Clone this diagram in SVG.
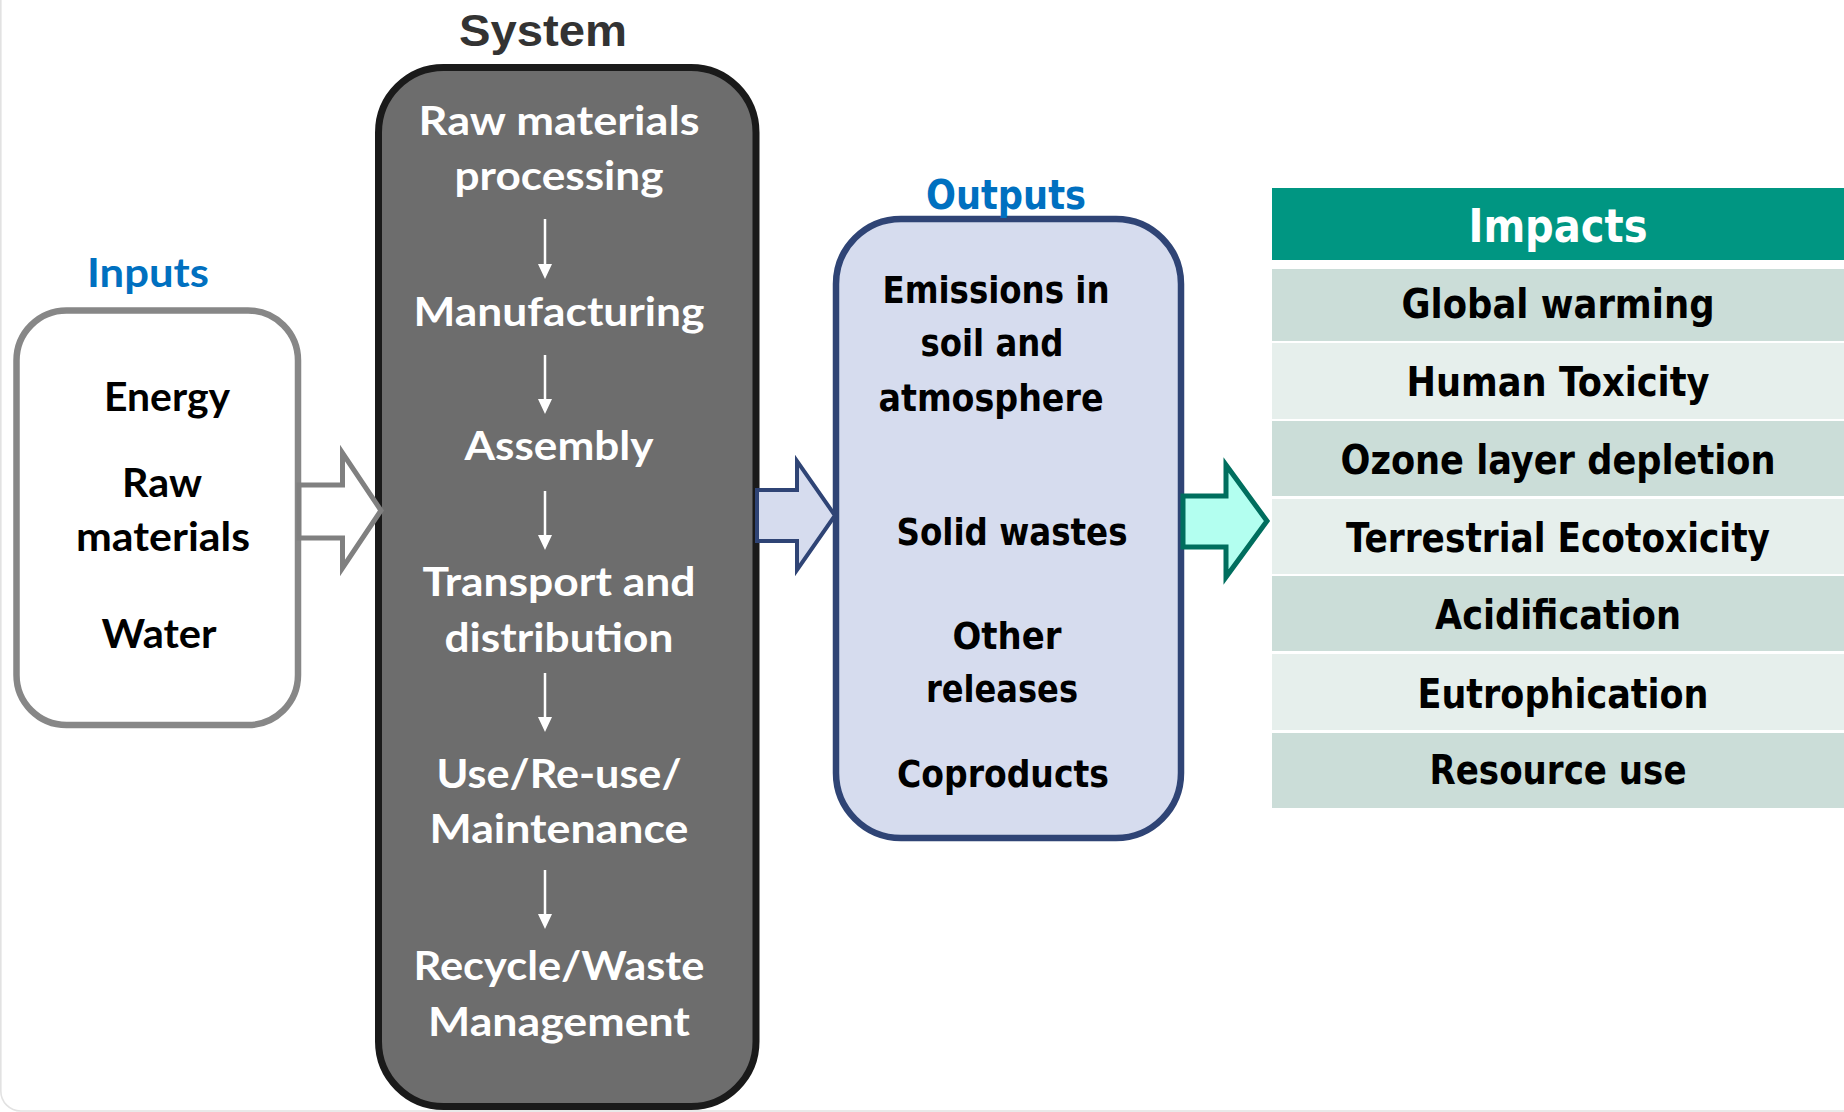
<svg xmlns="http://www.w3.org/2000/svg" width="1844" height="1112" viewBox="0 0 1844 1112">
<style>
.cal{font-family:Lato,"Open Sans","Liberation Sans",sans-serif;font-weight:bold;font-size:40px;text-anchor:middle}
.tah{font-family:"DejaVu Sans Condensed","DejaVu Sans","Liberation Sans",sans-serif;font-weight:bold;font-size:38px;text-anchor:middle;fill:#000}
.imp{font-family:"DejaVu Sans Condensed","DejaVu Sans","Liberation Sans",sans-serif;font-weight:bold;font-size:41px;text-anchor:middle;fill:#000}
.w{fill:#fff}
.k{fill:#000}
.blue{fill:#0070C0}
.rowA{fill:#CBDDD8}
.rowB{fill:#E6EFEC}
.small{stroke:#fff;stroke-width:2.5;fill:none}
</style>
<defs>
<marker id="ah" viewBox="0 0 15 14" refX="0" refY="7" markerWidth="15" markerHeight="14" markerUnits="userSpaceOnUse" orient="auto">
<polygon points="0,0 15,7 0,14" fill="#fff"/>
</marker>
</defs>
<rect x="0" y="0" width="1844" height="1112" fill="#fff"/>
<rect x="0.8" y="-40" width="1900" height="1151" rx="20" fill="none" stroke="#e2e2e2" stroke-width="1.6"/>

<text x="543" y="46" style="font-family:'Liberation Sans',Arial,sans-serif;font-weight:bold;font-size:45px;fill:#333;text-anchor:middle" textLength="168" lengthAdjust="spacingAndGlyphs">System</text>

<g id="inputs">
<rect x="16.5" y="310.5" width="281.5" height="414.5" rx="50" fill="#fff" stroke="#878787" stroke-width="6.5"/>
<text class="cal blue" x="148" y="287" textLength="122" lengthAdjust="spacingAndGlyphs">Inputs</text>
<text class="cal k" x="167" y="411" textLength="126" lengthAdjust="spacingAndGlyphs">Energy</text>
<text class="cal k" x="162" y="497" textLength="80" lengthAdjust="spacingAndGlyphs">Raw</text>
<text class="cal k" x="163" y="551" textLength="174" lengthAdjust="spacingAndGlyphs">materials</text>
<text class="cal k" x="159" y="648" textLength="115" lengthAdjust="spacingAndGlyphs">Water</text>
</g>

<g id="system">
<rect x="378.5" y="67.5" width="377.5" height="1039" rx="65" fill="#6d6d6d" stroke="#1a1a1a" stroke-width="7"/>
<text class="cal w" x="559" y="135" textLength="281" lengthAdjust="spacingAndGlyphs">Raw materials</text>
<text class="cal w" x="559" y="190" textLength="209" lengthAdjust="spacingAndGlyphs">processing</text>
<text class="cal w" x="559" y="326" textLength="291" lengthAdjust="spacingAndGlyphs">Manufacturing</text>
<text class="cal w" x="559" y="460" textLength="189" lengthAdjust="spacingAndGlyphs">Assembly</text>
<text class="cal w" x="559" y="596" textLength="273" lengthAdjust="spacingAndGlyphs">Transport and</text>
<text class="cal w" x="559" y="652" textLength="229" lengthAdjust="spacingAndGlyphs">distribution</text>
<text class="cal w" x="559" y="788" textLength="245" lengthAdjust="spacingAndGlyphs">Use/Re-use/</text>
<text class="cal w" x="559" y="843" textLength="259" lengthAdjust="spacingAndGlyphs">Maintenance</text>
<text class="cal w" x="559" y="980" textLength="291" lengthAdjust="spacingAndGlyphs">Recycle/Waste</text>
<text class="cal w" x="559" y="1036" textLength="262" lengthAdjust="spacingAndGlyphs">Management</text>
</g>

<g id="outputs">
<rect x="836" y="219" width="345" height="619" rx="65" fill="#D6DCEE" stroke="#2F4475" stroke-width="6.5"/>
<text class="tah blue" x="1006" y="209" style="font-size:41px" textLength="160" lengthAdjust="spacingAndGlyphs">Outputs</text>
<text class="tah" x="996" y="303" textLength="227" lengthAdjust="spacingAndGlyphs">Emissions in</text>
<text class="tah" x="992" y="356" textLength="143" lengthAdjust="spacingAndGlyphs">soil and</text>
<text class="tah" x="991" y="411" textLength="225" lengthAdjust="spacingAndGlyphs">atmosphere</text>
<text class="tah" x="1012" y="545" textLength="231" lengthAdjust="spacingAndGlyphs">Solid wastes</text>
<text class="tah" x="1007" y="649" textLength="109" lengthAdjust="spacingAndGlyphs">Other</text>
<text class="tah" x="1002" y="702" textLength="152" lengthAdjust="spacingAndGlyphs">releases</text>
<text class="tah" x="1003" y="787" textLength="212" lengthAdjust="spacingAndGlyphs">Coproducts</text>
</g>

<g id="impacts">
<rect x="1272" y="188" width="572" height="72" fill="#009682"/>
<text class="imp w" x="1558" y="242" style="font-size:47px" textLength="179" lengthAdjust="spacingAndGlyphs">Impacts</text>
<rect class="rowA" x="1272" y="269" width="572" height="72"/>
<rect class="rowB" x="1272" y="343" width="572" height="76"/>
<rect class="rowA" x="1272" y="421" width="572" height="75"/>
<rect class="rowB" x="1272" y="499" width="572" height="75"/>
<rect class="rowA" x="1272" y="576" width="572" height="75"/>
<rect class="rowB" x="1272" y="654" width="572" height="76"/>
<rect class="rowA" x="1272" y="733" width="572" height="75"/>
<text class="imp" x="1558" y="318" textLength="313" lengthAdjust="spacingAndGlyphs">Global warming</text>
<text class="imp" x="1558" y="396" textLength="303" lengthAdjust="spacingAndGlyphs">Human Toxicity</text>
<text class="imp" x="1558" y="474" textLength="435" lengthAdjust="spacingAndGlyphs">Ozone layer depletion</text>
<text class="imp" x="1558" y="552" textLength="424" lengthAdjust="spacingAndGlyphs">Terrestrial Ecotoxicity</text>
<text class="imp" x="1558" y="629" textLength="246" lengthAdjust="spacingAndGlyphs">Acidification</text>
<text class="imp" x="1563" y="708" textLength="291" lengthAdjust="spacingAndGlyphs">Eutrophication</text>
<text class="imp" x="1558" y="784" textLength="257" lengthAdjust="spacingAndGlyphs">Resource use</text>
</g>

<g id="connectors">
<polygon points="299,485 342.5,485 342.5,453 381,510.5 342.5,568 342.5,538 299,538" fill="#fff" stroke="#808080" stroke-width="5"/>
<polygon points="757,490 797,490 797,461 835,515.5 797,570 797,541 757,541" fill="#D6DCEE" stroke="#2F4475" stroke-width="4"/>
<polygon points="1183,496 1226,496 1226,465 1267,521 1226,577 1226,547 1183,547" fill="#B3FFF0" stroke="#006E5E" stroke-width="5"/>
<line class="small" x1="545" y1="219" x2="545" y2="264" marker-end="url(#ah)"/>
<line class="small" x1="545" y1="355" x2="545" y2="399" marker-end="url(#ah)"/>
<line class="small" x1="545" y1="491" x2="545" y2="535" marker-end="url(#ah)"/>
<line class="small" x1="545" y1="673" x2="545" y2="717" marker-end="url(#ah)"/>
<line class="small" x1="545" y1="870" x2="545" y2="914" marker-end="url(#ah)"/>
</g>
</svg>
